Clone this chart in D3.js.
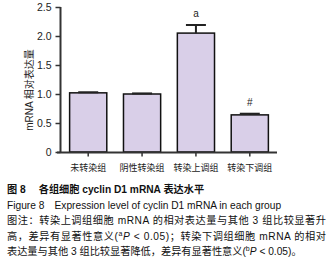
<!DOCTYPE html>
<html><head><meta charset="utf-8">
<script src="https://cdn.jsdelivr.net/npm/d3@7"></script>
<style>body{margin:0;background:#fff}svg{display:block}</style>
</head><body>
<script>
const categories = ["未转染组","阴性转染组","转染上调组","转染下调组"];
const values = [1.02, 1.00, 2.05, 0.64];
const errors = [0.01, 0.01, 0.14, 0.02];
const marks = ["", "", "a", "#"];
const yTicks = [0, 0.5, 1.0, 1.5, 2.0, 2.5];
const yTickLabels = ["0","0.5","1.0","1.5","2.0","2.5"];
const yLabel = "mRNA 相对表达量";
const captionLines = [
  {t:"图 8　 各组细胞 cyclin D1 mRNA 表达水平", bold:true},
  {t:"Figure 8　Expression level of cyclin D1 mRNA in each group"},
  {t:"图注：转染上调组细胞  mRNA 的相对表达量与其他 3 组比较显著升", justify:true},
  {t:"高，差异有显著性意义(ᵃP < 0.05)；转染下调组细胞  mRNA 的相对", justify:true},
  {t:"表达量与其他 3 组比较显著降低，差异有显著性意义(ᵇP < 0.05)。"}
];

const W=334,H=270;
const svg=d3.select("body").append("svg").attr("width",W).attr("height",H);
const font="'Liberation Sans','Noto Sans CJK SC',Arial,sans-serif";

const x=d3.scaleBand().domain(categories).range([61,277]).paddingInner(0.31).paddingOuter(0.16);
const y=d3.scaleLinear().domain([0,2.5]).range([152,7]);

svg.selectAll("rect.bar").data(values).enter().append("rect")
  .attr("x",(d,i)=>x(categories[i])).attr("width",x.bandwidth())
  .attr("y",d=>y(d)).attr("height",d=>y(0)-y(d))
  .attr("fill","#d9cfe8").attr("stroke","#111").attr("stroke-width",1.5);

const eg=svg.append("g").attr("stroke","#222").attr("stroke-width",2);
values.forEach((v,i)=>{
  const cx=x(categories[i])+x.bandwidth()/2;
  eg.append("line").attr("x1",cx).attr("x2",cx).attr("y1",y(v)).attr("y2",y(v+errors[i]));
  eg.append("line").attr("x1",cx-10).attr("x2",cx+10).attr("y1",y(v+errors[i])).attr("y2",y(v+errors[i]));
});
svg.selectAll("text.mk").data(marks).enter().append("text")
  .attr("x",(d,i)=>x(categories[i])+x.bandwidth()/2)
  .attr("y",(d,i)=>y(values[i]+errors[i])-8)
  .attr("text-anchor","middle").attr("font-family",font).attr("font-size",10).attr("fill","#222")
  .text(d=>d);

const ya=svg.append("g").attr("transform","translate(60.5,0)")
  .call(d3.axisLeft(y).tickValues(yTicks).tickFormat((d,i)=>yTickLabels[i]).tickSize(5).tickPadding(4));
ya.select(".domain").attr("stroke","#333").attr("stroke-width",2).attr("d","M0,"+y(2.5)+"V"+(y(0)));
ya.selectAll(".tick line").attr("stroke","#333").attr("stroke-width",1.5);
ya.selectAll("text").attr("font-family",font).attr("font-size",10.5).attr("fill","#222");

const xa=svg.append("g").attr("transform","translate(0,"+(y(0)+0.5)+")")
  .call(d3.axisBottom(x).tickSize(4).tickPadding(8));
xa.select(".domain").attr("stroke","#333").attr("stroke-width",2).attr("d","M57,0H277");
xa.selectAll(".tick line").attr("stroke","#333").attr("stroke-width",1.5);
xa.selectAll("text").attr("font-family",font).attr("font-size",9).attr("fill","#222");

svg.append("text").attr("transform","translate(33,90) rotate(-90)")
  .attr("text-anchor","middle").attr("font-family",font).attr("font-size",10).attr("fill","#222")
  .text(yLabel);

const cy=[193,209,224,240,255];
captionLines.forEach((l,i)=>{
  const t=svg.append("text").attr("x",7).attr("y",cy[i]).attr("font-family",font)
    .attr("font-size",10.2).attr("fill","#111").attr("font-weight",l.bold?"bold":"normal");
  if(l.justify){t.attr("textLength",319).attr("lengthAdjust","spacing");}
  if(l.t.includes("ᵃ")||l.t.includes("ᵇ")){
    const parts=l.t.split(/(ᵃP|ᵇP)/);
    parts.forEach(p=>{
      if(p==="ᵃP"||p==="ᵇP"){
        t.append("tspan").attr("font-size",7).attr("dy",-4).text(p==="ᵃP"?"a":"b");
        t.append("tspan").attr("font-style","italic").attr("dy",4).text("P");
      } else t.append("tspan").text(p);
    });
  } else t.text(l.t);
});
</script>
</body></html>
